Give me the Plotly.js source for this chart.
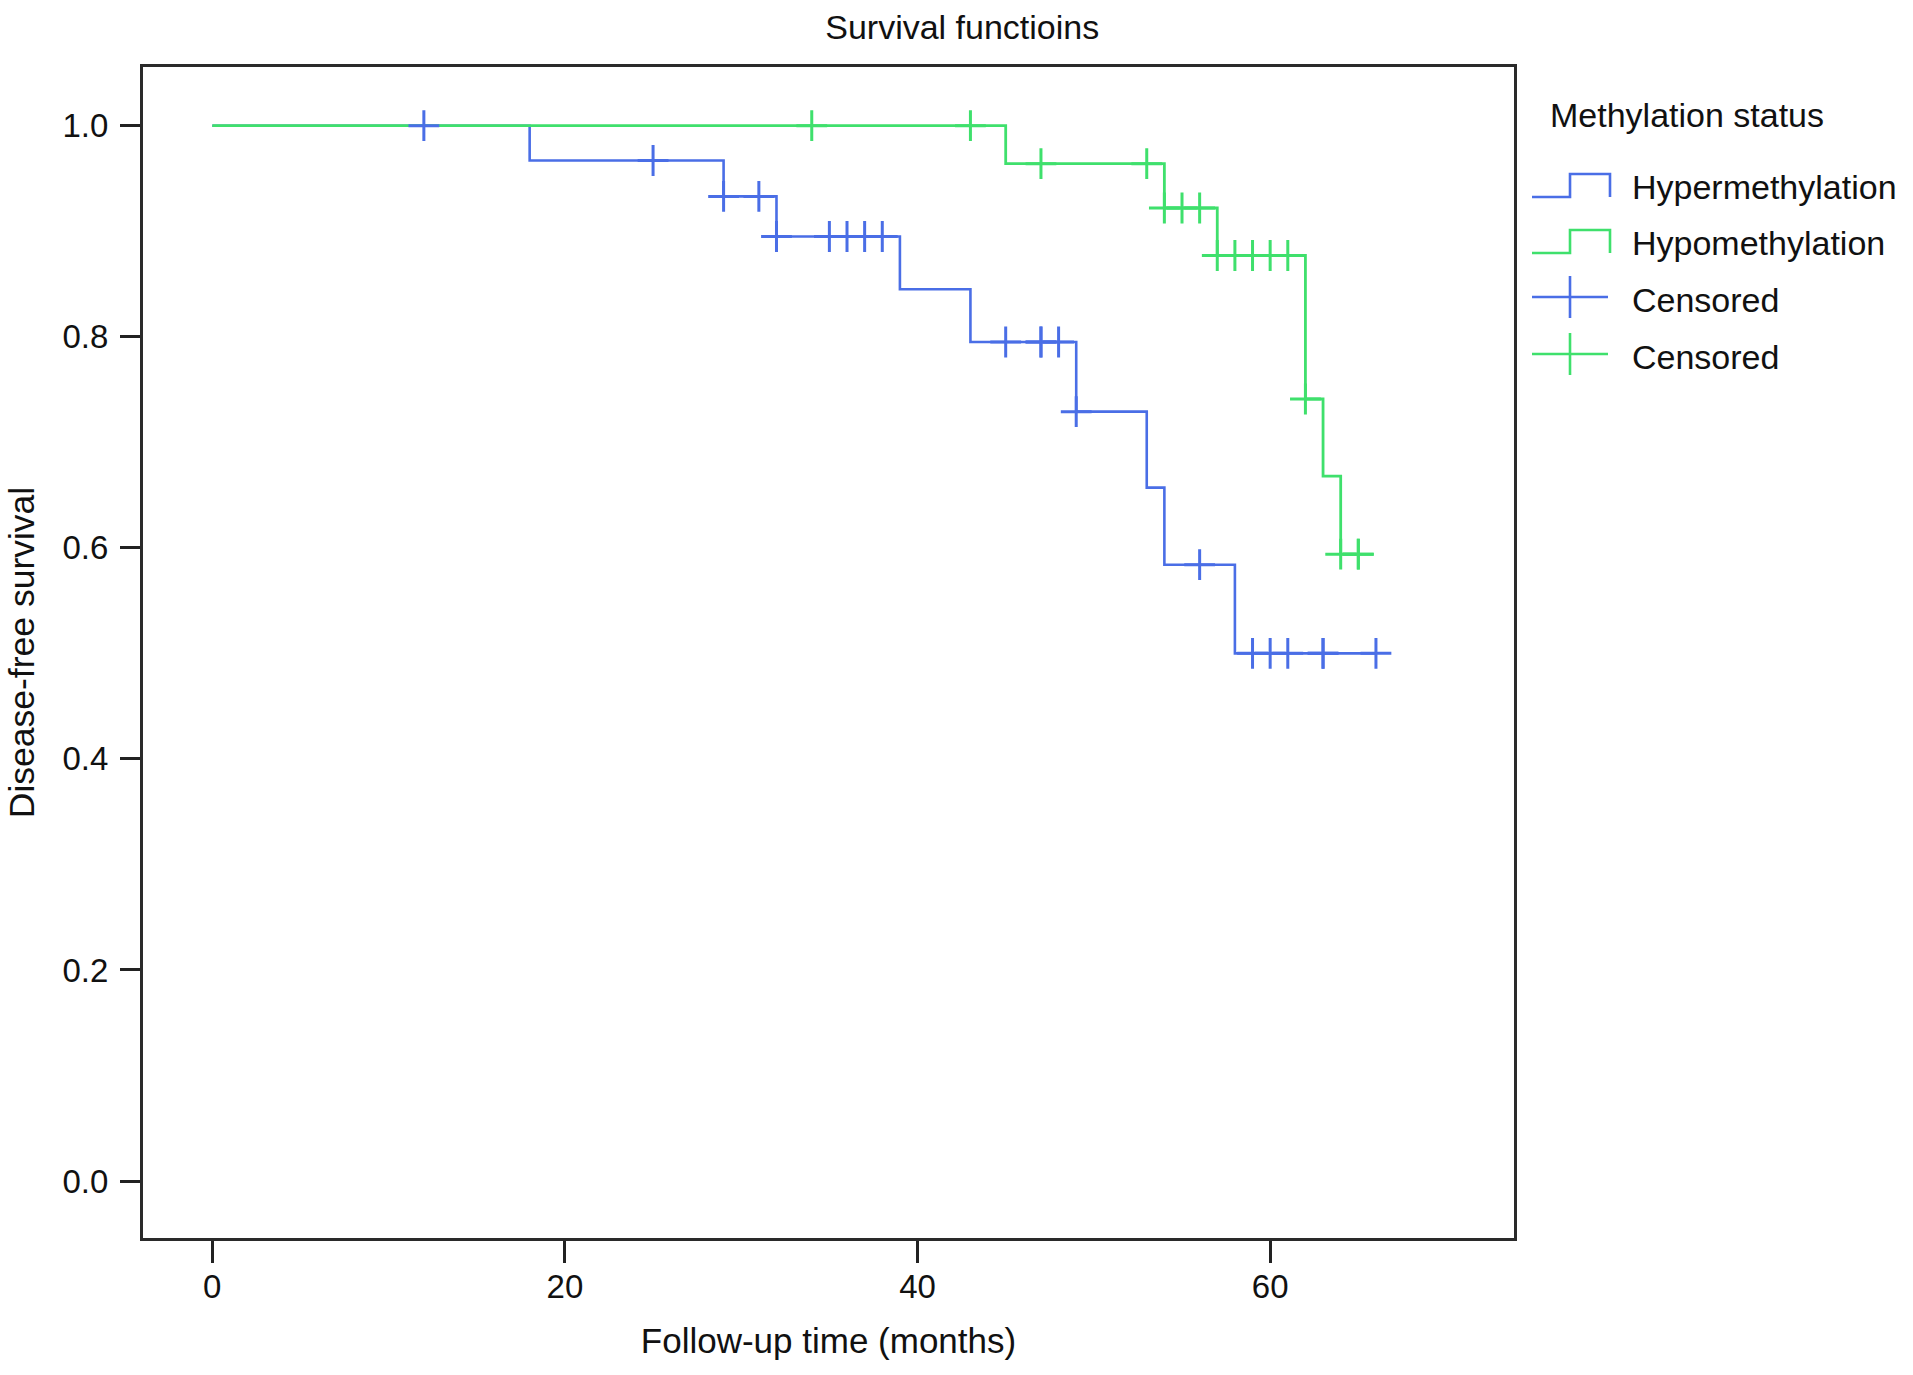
<!DOCTYPE html>
<html>
<head>
<meta charset="utf-8">
<script src="https://cdn.plot.ly/plotly-3.0.1.min.js"></script>
<style>html,body{margin:0;padding:0;background:#fff;}#chart{width:1913px;height:1375px;}</style>
</head>
<body>
<div id="chart"></div>
<script>
// Kaplan-Meier step data
var hyperTime = [0, 18, 29, 32, 39, 43, 49, 53, 54, 58, 66];
var hyperSurv = [1.0, 0.967, 0.933, 0.895, 0.845, 0.795, 0.729, 0.657, 0.584, 0.500, 0.500];
var hypoTime = [0, 45, 54, 57, 62, 63, 64, 65];
var hypoSurv = [1.0, 0.964, 0.922, 0.877, 0.741, 0.668, 0.594, 0.594];
// Censoring times
var hyperCensored = [12, 25, 29, 31, 32, 35, 36, 37, 38, 45, 47, 47, 48, 49, 56, 59, 60, 61, 63, 63, 66];
var hypoCensored = [34, 43, 47, 53, 54, 55, 56, 57, 58, 59, 60, 61, 62, 64, 65, 65];
var xTicks = [0, 20, 40, 60];
var yTicks = [0, 0.2, 0.4, 0.6, 0.8, 1.0];
var yTickLabels = ["0.0", "0.2", "0.4", "0.6", "0.8", "1.0"];
var legendTitle = 'Methylation status';
var legendLabels = ['Hypermethylation', 'Hypomethylation', 'Censored', 'Censored'];

function stepAt(times, surv, t) {
  var v = surv[0];
  for (var i = 0; i < times.length; i++) { if (times[i] <= t) v = surv[i]; }
  return v;
}
function censorTrace(times, curveT, curveS) {
  var xs = [], ys = [];
  times.forEach(function (t, i) {
    if (i > 0) { xs.push(null); ys.push(null); }
    xs.push(t); ys.push(stepAt(curveT, curveS, t));
  });
  return {x: xs, y: ys};
}

var BLUE = '#4a6ee6';
var GREEN = '#3fe06c';
var FONT = 'Liberation Sans, Arial, Helvetica, sans-serif';
var TXT = '#111';

var W = 1913, H = 1375;
var M = {l: 143, r: 399, t: 67, b: 137};
var PW = W - M.l - M.r, PH = H - M.t - M.b;
function px(x) { return (x - M.l) / PW; }
function py(y) { return 1 - (y - M.t) / PH; }
function pathFrom(pts) {
  return pts.map(function (p, i) { return (i ? 'L' : 'M') + px(p[0]).toFixed(5) + ',' + py(p[1]).toFixed(5); }).join(' ');
}

var hc = censorTrace(hyperCensored, hyperTime, hyperSurv);
var gc = censorTrace(hypoCensored, hypoTime, hypoSurv);

var traces = [
  {x: hyperTime, y: hyperSurv, type: 'scatter', mode: 'lines', name: legendLabels[0],
   line: {shape: 'hv', color: BLUE, width: 2.6}},
  {x: hypoTime, y: hypoSurv, type: 'scatter', mode: 'lines', name: legendLabels[1],
   line: {shape: 'hv', color: GREEN, width: 2.8}},
  {x: hc.x, y: hc.y, type: 'scatter', mode: 'markers', name: legendLabels[2],
   marker: {symbol: 'cross-thin', size: 22, color: BLUE, line: {color: BLUE, width: 3}}},
  {x: gc.x, y: gc.y, type: 'scatter', mode: 'markers', name: legendLabels[3],
   marker: {symbol: 'cross-thin', size: 22, color: GREEN, line: {color: GREEN, width: 3}}}
];

// Custom legend (step-shaped glyphs like the original)
var glyphColors = [BLUE, GREEN, BLUE, GREEN];
var rowY = [187, 243, 300, 357];
var shapes = [];
var annotations = [];
rowY.forEach(function (yc, i) {
  var c = glyphColors[i];
  if (i < 2) {
    var yb = yc + 10, yt = yc - 13;
    shapes.push({type: 'path', xref: 'paper', yref: 'paper', line: {color: c, width: 2.6},
      path: pathFrom([[1532, yb], [1570, yb], [1570, yt], [1610, yt], [1610, yb]])});
  } else {
    var yl = yc - 3;
    shapes.push({type: 'path', xref: 'paper', yref: 'paper', line: {color: c, width: 2.6},
      path: pathFrom([[1532, yl], [1608, yl]])});
    shapes.push({type: 'path', xref: 'paper', yref: 'paper', line: {color: c, width: 2.6},
      path: pathFrom([[1570, yl - 21], [1570, yl + 21]])});
  }
  annotations.push({xref: 'paper', yref: 'paper', x: px(1630), y: py(yc), xanchor: 'left', yanchor: 'middle',
    text: legendLabels[i], showarrow: false, font: {family: FONT, size: 34, color: TXT}});
});
annotations.push({xref: 'paper', yref: 'paper', x: px(1548), y: py(115), xanchor: 'left', yanchor: 'middle',
  text: legendTitle, showarrow: false, font: {family: FONT, size: 34, color: TXT}});

var layout = {
  width: W, height: H,
  margin: M,
  paper_bgcolor: '#fff', plot_bgcolor: '#fff',
  font: {family: FONT, size: 33, color: TXT},
  title: {text: 'Survival functioins', font: {family: FONT, size: 34, color: TXT},
          xref: 'container', x: 0.503, xanchor: 'center', yref: 'container', y: 0.98, yanchor: 'middle'},
  showlegend: false,
  shapes: shapes,
  annotations: annotations,
  xaxis: {range: [-3.93, 73.83], tickvals: xTicks, ticks: 'outside', ticklen: 22, tickwidth: 3,
          tickcolor: '#222', showline: true, mirror: true, linewidth: 3, linecolor: '#2a2a2a',
          showgrid: false, zeroline: false, ticklabelstandoff: -5,
          tickfont: {family: FONT, size: 33, color: TXT},
          title: {text: 'Follow-up time (months)', font: {family: FONT, size: 35, color: TXT}, standoff: 25}},
  yaxis: {range: [-0.054, 1.0556], tickvals: yTicks, ticktext: yTickLabels, ticks: 'outside', ticklen: 20,
          tickwidth: 3, tickcolor: '#222', showline: true, mirror: true, linewidth: 3, linecolor: '#2a2a2a',
          showgrid: false, zeroline: false, ticklabelstandoff: 5,
          tickfont: {family: FONT, size: 33, color: TXT},
          title: {text: 'Disease-free survival', font: {family: FONT, size: 35.5, color: TXT}, standoff: 18}}
};

Plotly.newPlot('chart', traces, layout, {displayModeBar: false, staticPlot: true});
</script>
</body>
</html>
